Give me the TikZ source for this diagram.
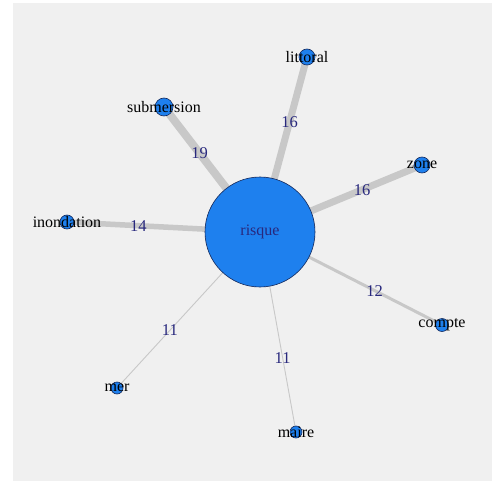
\documentclass[tikz,border=0pt]{standalone}
\usepackage{fontspec}
\setmainfont{Liberation Serif}
\pgfdeclarelayer{bg}
\pgfdeclarelayer{edges}
\pgfsetlayers{bg,edges,main}
\definecolor{panel}{RGB}{240,240,240}
\definecolor{edgegray}{RGB}{200,200,200}
\definecolor{vblue}{RGB}{30,128,238}
\definecolor{vborder}{RGB}{20,40,90}
\definecolor{labnavy}{RGB}{40,40,125}
\tikzset{
  vtx/.style={circle, fill=vblue, draw=vborder, line width=0.6pt, inner sep=0pt},
  word/.style={text=black, font=\fontsize{16}{18}\selectfont, inner sep=0pt},
  edge/.style={draw=edgegray, line cap=butt},
  elab/.style={pos=0.63, text=labnavy, font=\fontsize{16.5}{18}\selectfont, inner sep=0pt}
}
\begin{document}
\begin{tikzpicture}[x=1pt, y=-1pt]
			\useasboundingbox (0,0) rectangle (492,481);
			% Panel
			\begin{pgfonlayer}{bg}
			\fill[panel] (13,3) rectangle (492,481);
			\end{pgfonlayer}

			% Vertices
			\node[vtx, minimum size=110pt] (risque) at (260,232) {};
			\node[vtx, minimum size=18pt] (submersion) at (164,107) {};
			\node[vtx, minimum size=16pt] (littoral) at (307,57) {};
			\node[vtx, minimum size=16pt] (zone) at (422,165) {};
			\node[vtx, minimum size=14pt] (inondation) at (67,222) {};
			\node[vtx, minimum size=13pt] (compte) at (442,325) {};
			\node[vtx, minimum size=12pt] (mer) at (117,388) {};
			\node[vtx, minimum size=12pt] (maire) at (296,432) {};

			% Edges
			\begin{pgfonlayer}{edges}
			\draw[edge, line width=8pt] (risque.center) -- node[elab] {19} (submersion.center);
			\draw[edge, line width=7pt] (risque.center) -- node[elab] {16} (littoral.center);
			\draw[edge, line width=7pt] (risque.center) -- node[elab] {16} (zone.center);
			\draw[edge, line width=5.5pt] (risque.center) -- node[elab] {14} (inondation.center);
			\draw[edge, line width=3pt] (risque.center) -- node[elab] {12} (compte.center);
			\draw[edge, line width=0.9pt] (risque.center) -- node[elab] {11} (mer.center);
			\draw[edge, line width=0.9pt] (risque.center) -- node[elab] {11} (maire.center);
			\end{pgfonlayer}

			% Vertex labels
			\node[word, text=labnavy] (risquetxt) at (risque) {risque};
			\node[word] (submersiontxt) at (submersion) {submersion};
			\node[word] (littoraltxt) at (littoral) {littoral};
			\node[word] (zonetxt) at (zone) {zone};
			\node[word] (inondationtxt) at (inondation) {inondation};
			\node[word] (comptetxt) at (compte) {compte};
			\node[word] (mertxt) at (mer) {mer};
			\node[word] (mairetxt) at (maire) {maire};
\end{tikzpicture}
\end{document}
